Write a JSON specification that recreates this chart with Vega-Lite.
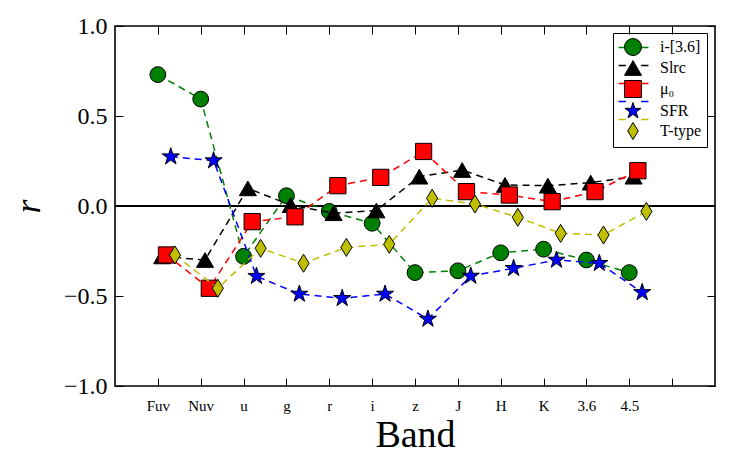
{
  "$schema": "https://vega.github.io/schema/vega-lite/v6.json",
  "width": 600,
  "height": 360,
  "autosize": "none",
  "padding": {"left": 115, "top": 26, "right": 16, "bottom": 79},
  "config": {
    "font": "Liberation Serif",
    "view": {"stroke": "black", "strokeWidth": 1.6},
    "axis": {"grid": false, "domain": false, "tickColor": "black", "tickWidth": 1, "labelColor": "black", "titleColor": "black", "titleFontWeight": "normal", "labelFont": "Liberation Serif", "titleFont": "Liberation Serif"},
    "legend": {"labelFont": "Liberation Serif", "labelColor": "black"}
  },
  "data": {"values": [
    {"band": "Fuv", "series": "i-[3.6]", "r": 0.73},
    {"band": "Nuv", "series": "i-[3.6]", "r": 0.594},
    {"band": "u", "series": "i-[3.6]", "r": -0.28},
    {"band": "g", "series": "i-[3.6]", "r": 0.057},
    {"band": "r", "series": "i-[3.6]", "r": -0.03},
    {"band": "i", "series": "i-[3.6]", "r": -0.096},
    {"band": "z", "series": "i-[3.6]", "r": -0.37},
    {"band": "J", "series": "i-[3.6]", "r": -0.36},
    {"band": "H", "series": "i-[3.6]", "r": -0.26},
    {"band": "K", "series": "i-[3.6]", "r": -0.24},
    {"band": "3.6", "series": "i-[3.6]", "r": -0.3},
    {"band": "4.5", "series": "i-[3.6]", "r": -0.37},
    {"band": "Fuv", "series": "Slrc", "r": -0.28},
    {"band": "Nuv", "series": "Slrc", "r": -0.3},
    {"band": "u", "series": "Slrc", "r": 0.098},
    {"band": "g", "series": "Slrc", "r": 0.005},
    {"band": "r", "series": "Slrc", "r": -0.04},
    {"band": "i", "series": "Slrc", "r": -0.025},
    {"band": "z", "series": "Slrc", "r": 0.163},
    {"band": "J", "series": "Slrc", "r": 0.2},
    {"band": "H", "series": "Slrc", "r": 0.117},
    {"band": "K", "series": "Slrc", "r": 0.113},
    {"band": "3.6", "series": "Slrc", "r": 0.13},
    {"band": "4.5", "series": "Slrc", "r": 0.163},
    {"band": "Fuv", "series": "μ₀", "r": -0.272},
    {"band": "Nuv", "series": "μ₀", "r": -0.457},
    {"band": "u", "series": "μ₀", "r": -0.087},
    {"band": "g", "series": "μ₀", "r": -0.06},
    {"band": "r", "series": "μ₀", "r": 0.113},
    {"band": "i", "series": "μ₀", "r": 0.159},
    {"band": "z", "series": "μ₀", "r": 0.303},
    {"band": "J", "series": "μ₀", "r": 0.08},
    {"band": "H", "series": "μ₀", "r": 0.061},
    {"band": "K", "series": "μ₀", "r": 0.024},
    {"band": "3.6", "series": "μ₀", "r": 0.08},
    {"band": "4.5", "series": "μ₀", "r": 0.196},
    {"band": "Fuv", "series": "SFR", "r": 0.274},
    {"band": "Nuv", "series": "SFR", "r": 0.252},
    {"band": "u", "series": "SFR", "r": -0.39},
    {"band": "g", "series": "SFR", "r": -0.489},
    {"band": "r", "series": "SFR", "r": -0.513},
    {"band": "i", "series": "SFR", "r": -0.489},
    {"band": "z", "series": "SFR", "r": -0.628},
    {"band": "J", "series": "SFR", "r": -0.389},
    {"band": "H", "series": "SFR", "r": -0.346},
    {"band": "K", "series": "SFR", "r": -0.3},
    {"band": "3.6", "series": "SFR", "r": -0.318},
    {"band": "4.5", "series": "SFR", "r": -0.48},
    {"band": "Fuv", "series": "T-type", "r": -0.272},
    {"band": "Nuv", "series": "T-type", "r": -0.457},
    {"band": "u", "series": "T-type", "r": -0.235},
    {"band": "g", "series": "T-type", "r": -0.318},
    {"band": "r", "series": "T-type", "r": -0.23},
    {"band": "i", "series": "T-type", "r": -0.213},
    {"band": "z", "series": "T-type", "r": 0.043},
    {"band": "J", "series": "T-type", "r": 0.011},
    {"band": "H", "series": "T-type", "r": -0.063},
    {"band": "K", "series": "T-type", "r": -0.152},
    {"band": "3.6", "series": "T-type", "r": -0.161},
    {"band": "4.5", "series": "T-type", "r": -0.03}
  ]},
  "layer": [
    {"mark": {"type": "rule", "color": "black", "strokeWidth": 1.5}, "encoding": {"y": {"datum": 0, "type": "quantitative", "scale": {"domain": [-1, 1]}, "axis": null}}},
    {
      "transform": [{"filter": "datum.series === 'i-[3.6]'"}],
      "mark": {"type": "line", "strokeDash": [7, 5], "strokeWidth": 1.5, "xOffset": 0},
      "encoding": {
        "x": {"field": "band", "type": "ordinal", "scale": {"type": "point", "domain": ["Fuv","Nuv","u","g","r","i","z","J","H","K","3.6","4.5"," "], "padding": 1},
              "axis": {"orient": "bottom", "title": "Band", "titleFontSize": 38, "titlePadding": 3, "labelFontSize": 15, "labelAngle": 0, "tickSize": -8, "labelPadding": 20, "labelExpr": "datum.value === ' ' ? '' : datum.value"}},
        "y": {"field": "r", "type": "quantitative", "scale": {"domain": [-1, 1]},
              "axis": {"orient": "left", "title": "r", "titleFontStyle": "italic", "titleFontSize": 36, "titlePadding": 16, "labelFontSize": 24, "tickSize": -8, "labelPadding": 16, "values": [-1, -0.5, 0, 0.5, 1], "labelExpr": "replace(format(datum.value, '.1f'), '-', '−')"}},
        "stroke": {"field": "series", "type": "nominal", "scale": {"domain": ["T-type","SFR","μ₀","Slrc","i-[3.6]"], "range": ["#bfbf00","#0000ff","#ff0000","#000000","#008000"]},
                   "legend": {"orient": "none", "legendX": 498, "legendY": 7, "title": null, "values": ["i-[3.6]","Slrc","μ₀","SFR","T-type"], "symbolType": "M-1.76,0H-0.9M0.9,0H1.76", "symbolSize": 289, "symbolStrokeWidth": 1.5, "padding": 5, "rowPadding": -2.3, "symbolOffset": 6, "labelExpr": "''", "labelFontSize": 16, "labelOffset": 18}}
      }
    },
    {
      "transform": [{"filter": "datum.series === 'i-[3.6]'"}],
      "mark": {"type": "point", "filled": true, "size": 250, "stroke": "black", "strokeWidth": 1, "opacity": 1, "xOffset": 0},
      "encoding": {
        "x": {"field": "band", "type": "ordinal", "axis": {"orient": "top", "title": null, "labels": false, "tickSize": -8}},
        "y": {"field": "r", "type": "quantitative", "axis": {"orient": "right", "title": null, "labels": false, "tickSize": -8, "values": [-1, -0.5, 0, 0.5, 1]}},
        "fill": {"field": "series", "type": "nominal", "scale": {"domain": ["i-[3.6]","Slrc","μ₀","SFR","T-type"], "range": ["#008000","#000000","#ff0000","#0000ff","#bfbf00"]},
                 "legend": {"orient": "none", "legendX": 498, "legendY": 7, "title": null, "symbolSize": 289, "symbolStrokeColor": "black", "symbolStrokeWidth": 1, "padding": 5, "rowPadding": 0, "symbolOffset": 6, "labelFontSize": 16, "labelOffset": 18, "strokeColor": "black"}},
        "shape": {"field": "series", "type": "nominal", "scale": {"domain": ["i-[3.6]","Slrc","μ₀","SFR","T-type"], "range": ["circle","triangle-up","square","M0,-1L0.225,-0.309L0.951,-0.309L0.363,0.118L0.588,0.809L0,0.382L-0.588,0.809L-0.363,0.118L-0.951,-0.309L-0.225,-0.309Z","M0,-1L0.62,0L0,1L-0.62,0Z"]}}
      }
    },
    {
      "transform": [{"filter": "datum.series === 'Slrc'"}],
      "mark": {"type": "line", "strokeDash": [7, 5], "strokeWidth": 1.5, "xOffset": 4.3},
      "encoding": {"x": {"field": "band", "type": "ordinal", "axis": null}, "y": {"field": "r", "type": "quantitative", "axis": null}, "stroke": {"field": "series", "type": "nominal"}}
    },
    {
      "transform": [{"filter": "datum.series === 'Slrc'"}],
      "mark": {"type": "point", "filled": true, "size": 290, "stroke": "black", "strokeWidth": 1, "opacity": 1, "xOffset": 4.3},
      "encoding": {"x": {"field": "band", "type": "ordinal", "axis": null}, "y": {"field": "r", "type": "quantitative", "axis": null}, "fill": {"field": "series", "type": "nominal"}, "shape": {"field": "series", "type": "nominal"}}
    },
    {
      "transform": [{"filter": "datum.series === 'μ₀'"}],
      "mark": {"type": "line", "strokeDash": [7, 5], "strokeWidth": 1.5, "xOffset": 8.6},
      "encoding": {"x": {"field": "band", "type": "ordinal", "axis": null}, "y": {"field": "r", "type": "quantitative", "axis": null}, "stroke": {"field": "series", "type": "nominal"}}
    },
    {
      "transform": [{"filter": "datum.series === 'μ₀'"}],
      "mark": {"type": "point", "filled": true, "size": 264, "stroke": "black", "strokeWidth": 1, "opacity": 1, "xOffset": 8.6},
      "encoding": {"x": {"field": "band", "type": "ordinal", "axis": null}, "y": {"field": "r", "type": "quantitative", "axis": null}, "fill": {"field": "series", "type": "nominal"}, "shape": {"field": "series", "type": "nominal"}}
    },
    {
      "transform": [{"filter": "datum.series === 'SFR'"}],
      "mark": {"type": "line", "strokeDash": [7, 5], "strokeWidth": 1.5, "xOffset": 12.9},
      "encoding": {"x": {"field": "band", "type": "ordinal", "axis": null}, "y": {"field": "r", "type": "quantitative", "axis": null}, "stroke": {"field": "series", "type": "nominal"}}
    },
    {
      "transform": [{"filter": "datum.series === 'SFR'"}],
      "mark": {"type": "point", "filled": true, "size": 324, "stroke": "black", "strokeWidth": 1, "opacity": 1, "xOffset": 12.9},
      "encoding": {"x": {"field": "band", "type": "ordinal", "axis": null}, "y": {"field": "r", "type": "quantitative", "axis": null}, "fill": {"field": "series", "type": "nominal"}, "shape": {"field": "series", "type": "nominal"}}
    },
    {
      "transform": [{"filter": "datum.series === 'T-type'"}],
      "mark": {"type": "line", "strokeDash": [7, 5], "strokeWidth": 1.5, "xOffset": 17.1},
      "encoding": {"x": {"field": "band", "type": "ordinal", "axis": null}, "y": {"field": "r", "type": "quantitative", "axis": null}, "stroke": {"field": "series", "type": "nominal"}}
    },
    {
      "transform": [{"filter": "datum.series === 'T-type'"}],
      "mark": {"type": "point", "filled": true, "size": 324, "stroke": "black", "strokeWidth": 1, "opacity": 1, "xOffset": 17.1},
      "encoding": {"x": {"field": "band", "type": "ordinal", "axis": null}, "y": {"field": "r", "type": "quantitative", "axis": null}, "fill": {"field": "series", "type": "nominal"}, "shape": {"field": "series", "type": "nominal"}}
    }
  ]
}
